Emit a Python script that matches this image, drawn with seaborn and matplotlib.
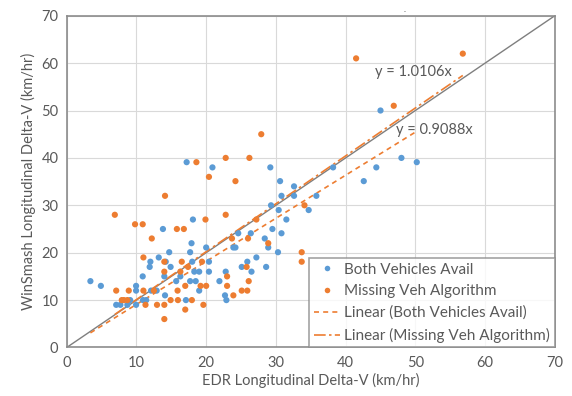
import matplotlib
matplotlib.use('Agg')
import matplotlib.pyplot as plt
import numpy as np
import pandas as pd
import seaborn as sns

# EDR vs WinSmash longitudinal delta-V (km/hr)
both_x = [17.2, 20.9, 29.2, 30.6, 30.8, 32.6, 32.6, 35.8, 29.3, 30.4, 34.7, 13.8,
          18.1, 31.5, 29.5, 30.8, 24.6, 26.4, 28.4, 28.9, 17.9, 20.0, 23.9, 24.2,
          30.3, 14.7, 17.7, 13.2, 12.0, 14.2, 18.0, 20.4, 25.9, 11.9, 14.9, 25.1,
          27.2, 28.6, 18.3, 19.0, 20.4, 22.8, 26.5, 10.9, 14.0, 16.3, 15.7, 17.7,
          18.5, 21.9, 3.4, 4.9, 9.95, 9.95, 12.1, 12.9, 19.0, 14.1, 22.7, 22.9,
          9.1, 10.95, 11.4, 17.1, 7.1, 7.7, 8.7, 9.95,
          45.0, 48.0, 50.2, 44.4, 38.2, 42.6]
both_y = [39.1, 38.0, 38.0, 35.1, 32.0, 34.0, 32.0, 32.0, 30.0, 29.0, 29.0, 25.0,
          27.0, 27.0, 25.0, 24.1, 24.1, 24.1, 23.0, 21.1, 22.0, 21.1, 21.1, 21.1,
          20.1, 20.1, 20.1, 19.0, 18.1, 18.1, 18.1, 18.1, 18.1, 17.0, 17.0, 17.0,
          19.0, 17.0, 16.0, 16.0, 16.0, 16.0, 16.0, 15.0, 15.0, 15.0, 14.0, 14.0,
          14.0, 14.0, 14.0, 13.0, 13.0, 12.0, 12.0, 12.0, 12.0, 11.0, 11.0, 10.0,
          10.0, 10.0, 10.0, 10.0, 9.0, 9.0, 9.0, 9.0,
          50.0, 40.0, 39.1, 38.0, 38.0, 35.1]

missing_x = [18.6, 22.8, 26.2, 20.4, 24.2, 14.1, 34.1, 6.9, 9.8, 10.9, 15.8, 16.8,
             19.9, 22.8, 27.2, 12.2, 23.7, 26.0, 28.9, 33.7, 33.7, 11.0, 14.0, 16.5,
             19.4, 17.4, 25.8, 14.0, 16.3, 23.0, 26.1, 7.1, 8.9, 11.0, 12.5, 15.9,
             17.0, 19.2, 20.0, 23.0, 25.1, 25.9, 23.9, 7.9, 8.2, 8.7, 14.9, 15.95,
             17.95, 11.3, 12.95, 14.0, 19.6, 17.0, 14.0,
             41.5, 56.8, 46.9, 27.9]
missing_y = [39.1, 40.0, 40.0, 36.0, 35.1, 32.0, 30.0, 28.0, 26.0, 26.0, 25.0, 25.0,
             27.0, 28.0, 27.0, 23.0, 23.0, 23.0, 22.0, 20.1, 18.1, 19.0, 18.1, 18.1,
             18.1, 17.0, 17.0, 16.0, 16.0, 15.0, 14.0, 12.0, 12.0, 12.0, 12.0, 12.0,
             13.0, 13.0, 13.0, 13.0, 12.0, 12.0, 11.0, 10.0, 10.0, 10.0, 10.0, 10.0,
             10.0, 9.0, 9.0, 9.0, 9.0, 8.0, 6.0,
             61.0, 62.0, 51.0, 45.0]

labels = ['Both Vehicles Avail', 'Missing Veh Algorithm']
slopes = [0.9088, 1.0106]
colors = ['#5B9BD5', '#ED7D31']
axis_max = 70

df = pd.concat([
    pd.DataFrame({'edr': both_x, 'winsmash': both_y, 'group': labels[0]}),
    pd.DataFrame({'edr': missing_x, 'winsmash': missing_y, 'group': labels[1]}),
])

sns.set_style('whitegrid', {'grid.color': '#d9d9d9', 'axes.edgecolor': '#8c8c8c'})
plt.rcParams['font.family'] = ['Lato', 'DejaVu Sans']

fig = plt.figure(figsize=(5.72, 3.96), dpi=100)
ax = fig.add_axes([0.1166, 0.1225, 0.8534, 0.8378])

# y = x reference
ax.plot([0, axis_max], [0, axis_max], color='#7f7f7f', lw=1, zorder=1)

sns.scatterplot(data=df, x='edr', y='winsmash', hue='group', hue_order=labels,
                palette=colors, s=20, edgecolor='none', ax=ax, zorder=3,
                legend=False)

# trendlines through origin, spanning each group's x range
styles = [(0, (3, 2.5)), (0, (7, 2, 1.5, 2))]
trend_handles = []
for grp, slope, ls in zip(labels, slopes, styles):
    xs = df.loc[df['group'] == grp, 'edr']
    xr = np.array([xs.min(), xs.max()])
    h, = ax.plot(xr, slope * xr, color=colors[1], lw=1.2, linestyle=ls, zorder=2)
    trend_handles.append(h)

ax.text(44.2, 58.1, 'y = %.4fx' % slopes[1], fontsize=10.5, color='#595959', va='center')
ax.text(47.2, 45.9, 'y = %.4fx' % slopes[0], fontsize=10.5, color='#595959', va='center')

ax.set_xlim(0, axis_max)
ax.set_ylim(0, axis_max)
ax.set_xticks(range(0, axis_max + 1, 10))
ax.set_yticks(range(0, axis_max + 1, 10))
ax.tick_params(labelsize=10.5, colors='#595959', length=0, pad=6)
ax.set_xlabel('EDR Longitudinal Delta-V (km/hr)', fontsize=10.5, color='#595959', labelpad=2)
ax.set_ylabel('WinSmash Longitudinal Delta-V (km/hr)', fontsize=10.5, color='#595959', labelpad=4)
for sp in ax.spines.values():
    sp.set_color('#8c8c8c')
    sp.set_linewidth(1.2)

dot_handles = [plt.Line2D([], [], marker='o', ls='none', ms=4, color=c, mec='none') for c in colors]
leg = ax.legend(dot_handles + trend_handles,
                labels + ['Linear (%s)' % l for l in labels],
                loc='lower right', fontsize=11, frameon=True, fancybox=False,
                borderaxespad=0, handlelength=1.7, handletextpad=0.3,
                labelspacing=0.5, borderpad=0.3, labelcolor='#595959')
leg.get_frame().set_edgecolor('#8c8c8c')
leg.get_frame().set_linewidth(1.2)

fig.text(0.708, 0.985, '.', fontsize=6, color='#595959', ha='center', va='top')

fig.savefig('out.png', dpi=100)
